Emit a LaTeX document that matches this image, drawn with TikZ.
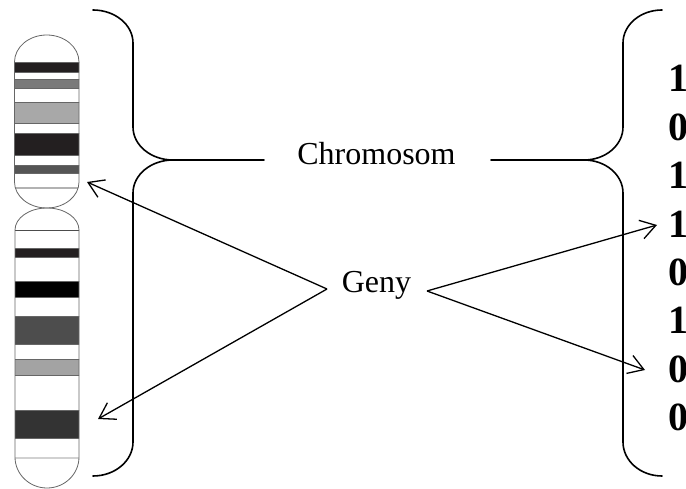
\documentclass[tikz,border=0pt]{standalone}
\usepackage{fontspec}
\setmainfont{Liberation Serif}
\usetikzlibrary{arrows.meta}

\definecolor{bandblack}{HTML}{231F20}
\definecolor{bandgrayA}{HTML}{7A7A7A}
\definecolor{bandgrayB}{HTML}{A8A8A8}
\definecolor{bandgrayC}{HTML}{555555}
\definecolor{bandgrayD}{HTML}{4D4D4D}
\definecolor{bandgrayE}{HTML}{A3A3A3}
\definecolor{bandgrayF}{HTML}{333333}

\begin{document}
\begin{tikzpicture}[x=1pt,y=-1pt,
  brace/.style={line width=1.6pt, line cap=round},
  pointer/.style={line width=1.3pt, -{Straight Barb[length=15pt,width=19pt,line width=1.3pt]}},
  label/.style={font=\fontsize{32}{38}\selectfont, anchor=base, inner sep=0pt},
  bit/.style={font=\fontsize{40}{48}\selectfont\bfseries, anchor=base west, inner sep=0pt},
  band/.style={draw=black!60, line width=0.4pt},
  outline/.style={draw=black!60, line width=0.8pt}]
\useasboundingbox (0,0) rectangle (686,489);

% ---- upper chromatid ----
\begin{scope}
  \clip (14.5,62) arc[start angle=180,end angle=360,x radius=32.25,y radius=27]
        -- (79,182) arc[start angle=0,end angle=180,x radius=32.25,y radius=26] -- cycle;
  \filldraw[band, fill=bandblack] (10,62) rectangle (84,72);
  \filldraw[band, fill=bandgrayA] (10,79) rectangle (84,88);
  \filldraw[band, fill=bandgrayB] (10,102) rectangle (84,123);
  \filldraw[band, fill=bandblack] (10,133) rectangle (84,155);
  \filldraw[band, fill=bandgrayC] (10,165) rectangle (84,173);
  \draw[black!30, line width=1.2pt] (10,188) -- (84,188);
\end{scope}
\draw[outline] (14.5,62) arc[start angle=180,end angle=360,x radius=32.25,y radius=27]
      -- (79,182) arc[start angle=0,end angle=180,x radius=32.25,y radius=26] -- cycle;

% ---- lower chromatid ----
\begin{scope}
  \clip (15,230) arc[start angle=180,end angle=360,x radius=32,y radius=22]
        -- (79,457) arc[start angle=0,end angle=180,x radius=32,y radius=31] -- cycle;
  \draw[black!70, line width=0.8pt] (10,230) -- (84,230);
  \filldraw[band, fill=bandblack] (10,248) rectangle (84,257);
  \filldraw[band, fill=black] (10,281) rectangle (84,297);
  \filldraw[band, fill=bandgrayD] (10,316) rectangle (84,344);
  \filldraw[band, fill=bandgrayE] (10,359) rectangle (84,375);
  \filldraw[band, fill=bandgrayF] (10,410) rectangle (84,438);
  \draw[black!18, line width=2pt] (10,458) -- (84,458);
\end{scope}
\draw[outline] (15,230) arc[start angle=180,end angle=360,x radius=32,y radius=22]
      -- (79,457) arc[start angle=0,end angle=180,x radius=32,y radius=31] -- cycle;

% ---- braces ----
\draw[brace] (93,10) arc[start angle=270,end angle=360,x radius=40,y radius=33]
  -- (133,127) arc[start angle=180,end angle=90,x radius=40,y radius=33] -- (264,160);
\draw[brace] (173,160) arc[start angle=270,end angle=180,x radius=40,y radius=33]
  -- (133,442) arc[start angle=0,end angle=90,x radius=40,y radius=34];

\draw[brace] (662,10) arc[start angle=270,end angle=180,x radius=39,y radius=33]
  -- (623,127) arc[start angle=0,end angle=90,x radius=39,y radius=33] -- (491,160);
\draw[brace] (584,160) arc[start angle=270,end angle=360,x radius=39,y radius=33]
  -- (623,442) arc[start angle=180,end angle=90,x radius=39,y radius=34];

% ---- labels ----
\node[label] (chrom) at (376.5,165) {Chromosom};
\node[label] (geny) at (376.5,293) {Geny};

% ---- bits ----
\foreach \b [count=\i from 0] in {1,0,1,1,0,1,0,0}
  \node[bit] (bit\i) at (668,92+48.4*\i) {\b};

% ---- pointers ----
\coordinate (gl) at (327,289);
\coordinate (gr) at (427,291);
\coordinate (tipUL) at (87,182);
\coordinate (tipLL) at (98,419);
\coordinate (tipUR) at (657,225);
\coordinate (tipLR) at (645,370);
\draw[pointer] (gl) -- (tipUL);
\draw[pointer] (gl) -- (tipLL);
\draw[pointer] (gr) -- (tipUR);
\draw[pointer] (gr) -- (tipLR);
\end{tikzpicture}
\end{document}
